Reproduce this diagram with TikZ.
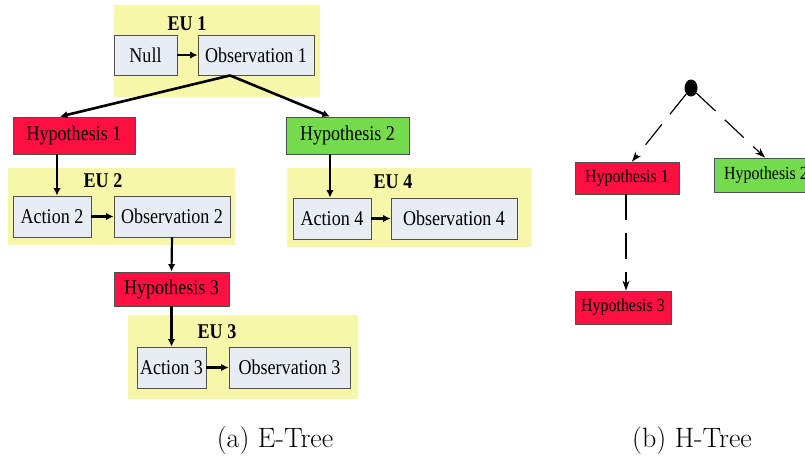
\documentclass[tikz,border=0pt]{standalone}
\usepackage{fontspec}
\newfontfamily\boxfont[FakeStretch=0.86]{Liberation Serif}
\usetikzlibrary{arrows.meta,shapes.geometric}
\definecolor{euyellow}{HTML}{F7F7AA}
\definecolor{boxgray}{HTML}{E8ECF3}
\definecolor{hypred}{HTML}{FF0F42}
\definecolor{hypgreen}{HTML}{74DC4C}
\definecolor{edgegray}{HTML}{505050}
\tikzset{
  eubox/.style={fill=euyellow, draw=none, inner sep=0pt},
  eulabel/.style={font=\boxfont\fontsize{21}{24}\selectfont\bfseries, inner sep=0pt},
  ebox/.style={draw=edgegray, line width=0.9pt, fill=boxgray, inner sep=0pt,
    font=\boxfont\fontsize{21}{24}\selectfont},
  redbox/.style={ebox, fill=hypred},
  greenbox/.style={ebox, fill=hypgreen},
  hbox/.style={draw=edgegray, line width=0.8pt, inner sep=0pt,
    font=\boxfont\fontsize{18.5}{22}\selectfont},
  arr/.style={line width=2.2pt, -{Latex[length=7.5pt,width=7.5pt]}},
  darr/.style={line width=1.2pt, dash pattern=on 26pt off 13pt, -{Stealth[length=10pt,width=7pt]}},
  caption/.style={font=\fontsize{28}{32}\selectfont, inner sep=0pt}
}
\begin{document}
\begin{tikzpicture}[x=1pt,y=-1pt]
\useasboundingbox (0,0) rectangle (805,459);
% E-Tree backgrounds
\node[eubox, minimum width=206, minimum height=92] (eu1) at (217,51) {};
\node[eubox, minimum width=227, minimum height=77] (eu2) at (121.5,206.5) {};
\node[eubox, minimum width=244, minimum height=79] (eu4) at (409,207.5) {};
\node[eubox, minimum width=230, minimum height=84] (eu3) at (243,357) {};
\node[eulabel] (l1) at (187,24) {EU 1};
\node[eulabel] (l2) at (103,181) {EU 2};
\node[eulabel] (l4) at (393,182) {EU 4};
\node[eulabel] (l3) at (217,332) {EU 3};
% E-Tree boxes
\node[ebox, minimum width=63, minimum height=40] (null) at (145.5,55) {Null};
\node[ebox, minimum width=116, minimum height=40] (obs1) at (256,55) {Observation 1};
\node[redbox, minimum width=122, minimum height=37] (h1) at (74,135.5) {Hypothesis 1};
\node[greenbox, minimum width=123, minimum height=37] (h2) at (347.5,135.5) {Hypothesis 2};
\node[ebox, minimum width=78, minimum height=41] (a2) at (52,216.5) {Action 2};
\node[ebox, minimum width=116, minimum height=41] (obs2) at (172,216.5) {Observation 2};
\node[ebox, minimum width=78, minimum height=41] (a4) at (332,218.5) {Action 4};
\node[ebox, minimum width=126, minimum height=41] (obs4) at (454,218.5) {Observation 4};
\node[redbox, minimum width=115, minimum height=34] (h3) at (171.5,289) {Hypothesis 3};
\node[ebox, minimum width=69, minimum height=41] (a3) at (171.5,367.5) {Action 3};
\node[ebox, minimum width=121, minimum height=41] (obs3) at (289.5,367.5) {Observation 3};
% E-Tree connectors
\draw[arr] (null.east) -- (obs1.west);
\draw[arr, line width=2.6pt] ([xshift=-26pt]obs1.south) -- ([xshift=-14pt]h1.north);
\draw[arr, line width=2.6pt] ([xshift=-26pt]obs1.south) -- ([xshift=-17.5pt]h2.north);
\draw[arr] ([xshift=-17pt]h1.south) -- ([xshift=5pt]a2.north);
\draw[arr] (a2.east) -- (obs2.west);
\draw[arr] (obs2.south) -- (h3.north);
\draw[arr] ([xshift=-17.5pt]h2.south) -- ([xshift=-2pt]a4.north);
\draw[arr] (a4.east) -- (obs4.west);
\draw[arr] (h3.south) -- (a3.north);
\draw[arr] (a3.east) -- (obs3.west);
% H-Tree
\node[ellipse, fill=black, minimum width=13, minimum height=17, inner sep=0pt] (root) at (691,88) {};
\node[hbox, fill=hypred, minimum width=104, minimum height=32] (hh1) at (627,178) {Hypothesis 1};
\node[hbox, fill=hypgreen, minimum width=104, minimum height=34] (hh2) at (766,175) {Hypothesis 2};
\node[hbox, fill=hypred, minimum width=96, minimum height=33] (hh3) at (623,307.5) {Hypothesis 3};
\draw[darr] (root) -- ([xshift=5pt]hh1.north);
\draw[darr] (root) -- ([xshift=-1pt]hh2.north);
\draw[darr] ([xshift=-1pt]hh1.south) -- ([xshift=3pt]hh3.north);
% captions
\node[caption] (ca) at (275,441) {(a) E-Tree};
\node[caption] (cb) at (692,441) {(b) H-Tree};
\end{tikzpicture}
\end{document}
